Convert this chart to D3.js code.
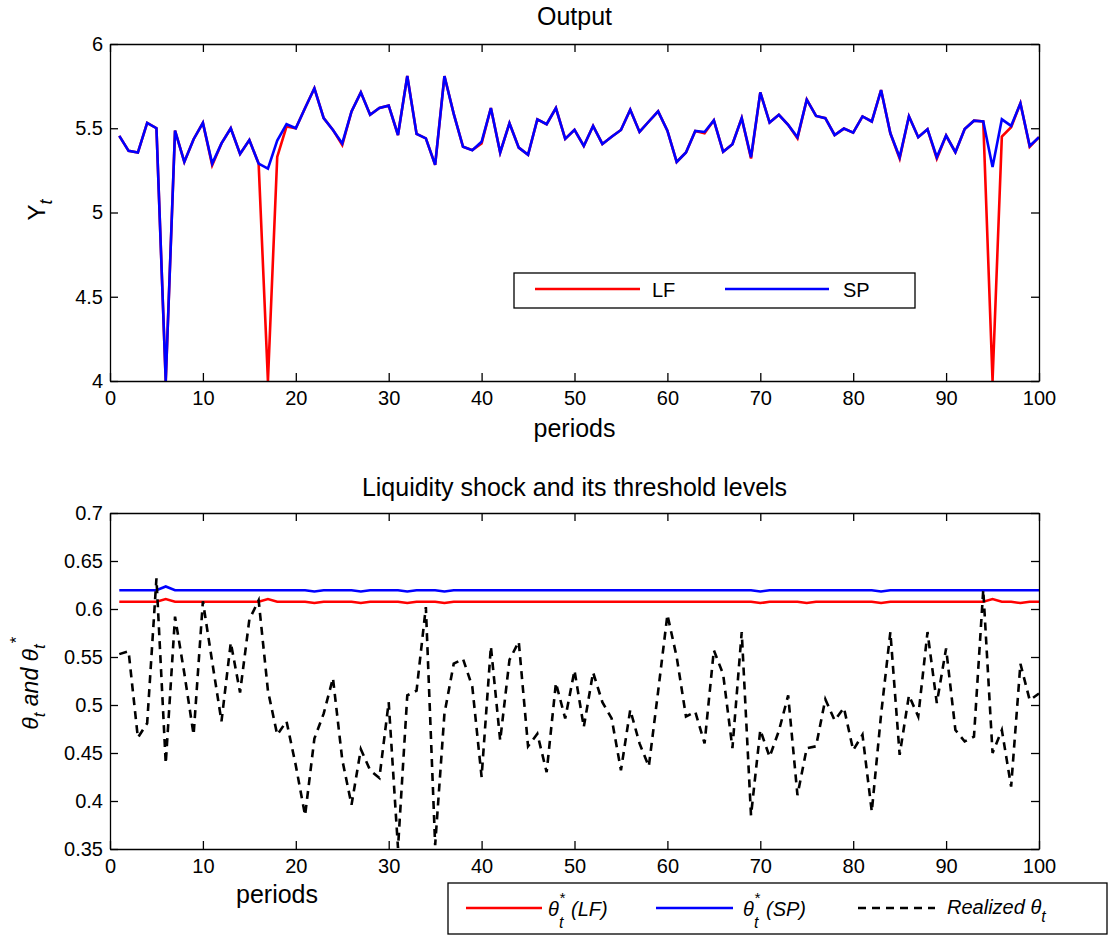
<!DOCTYPE html>
<html>
<head>
<meta charset="utf-8">
<script src="https://cdn.jsdelivr.net/npm/d3@7"></script>
<style>
	body { margin: 0; background: #fff; }
	svg { font-family: "Liberation Sans", Arial, sans-serif; }
	.axis path, .axis line { stroke: #000; stroke-width: 1.3; }
	.axis text { font-size: 20px; fill: #000; }
</style>
</head>
<body>
<svg id="chart" width="1109" height="935" viewBox="0 0 1109 935"></svg>
<script>

// periods 1..100
const periods = d3.range(1, 101);

// Output Y_t, social planner
const outputSP = [
	5.455, 5.366, 5.356, 5.532, 5.50, 4.0, 5.486, 5.30, 5.435, 5.532,
	5.29, 5.41, 5.50, 5.348, 5.43, 5.29, 5.26, 5.427, 5.524, 5.50,
	5.62, 5.737, 5.56, 5.49, 5.41, 5.60, 5.713, 5.58, 5.62, 5.634,
	5.46, 5.81, 5.466, 5.44, 5.283, 5.81, 5.585, 5.39, 5.37, 5.42,
	5.62, 5.356, 5.53, 5.385, 5.342, 5.553, 5.524, 5.62, 5.437, 5.49,
	5.395, 5.514, 5.407, 5.45, 5.49, 5.61, 5.478, 5.54, 5.60, 5.486,
	5.30, 5.356, 5.484, 5.478, 5.547, 5.36, 5.405, 5.56, 5.328, 5.713,
	5.534, 5.58, 5.52, 5.447, 5.67, 5.573, 5.56, 5.46, 5.498, 5.474,
	5.57, 5.54, 5.727, 5.47, 5.328, 5.571, 5.447, 5.494, 5.328, 5.457,
	5.358, 5.496, 5.545, 5.54, 5.27, 5.553, 5.514, 5.648, 5.395, 5.447
];

// Output Y_t, laissez-faire
const outputLF = [
	5.455, 5.366, 5.356, 5.532, 5.50, 4.0, 5.486, 5.30, 5.435, 5.532,
	5.28, 5.41, 5.50, 5.348, 5.43, 5.29, 4.0, 5.33, 5.51, 5.50,
	5.62, 5.737, 5.56, 5.49, 5.40, 5.60, 5.713, 5.58, 5.62, 5.634,
	5.46, 5.81, 5.466, 5.44, 5.283, 5.81, 5.585, 5.39, 5.37, 5.41,
	5.62, 5.356, 5.53, 5.385, 5.342, 5.553, 5.524, 5.62, 5.437, 5.49,
	5.395, 5.514, 5.407, 5.45, 5.49, 5.61, 5.478, 5.54, 5.60, 5.486,
	5.30, 5.356, 5.484, 5.47, 5.547, 5.36, 5.405, 5.56, 5.32, 5.713,
	5.534, 5.58, 5.52, 5.44, 5.67, 5.573, 5.56, 5.46, 5.498, 5.474,
	5.57, 5.54, 5.727, 5.47, 5.32, 5.571, 5.447, 5.494, 5.32, 5.457,
	5.358, 5.496, 5.545, 5.54, 4.0, 5.45, 5.506, 5.648, 5.39, 5.447
];

// threshold theta* (SP)
const thresholdSP = [
	0.6195, 0.6195, 0.6195, 0.6195, 0.6195, 0.6235, 0.6195, 0.6195, 0.6195, 0.6195,
	0.6195, 0.6195, 0.6195, 0.6195, 0.6195, 0.6195, 0.6195, 0.6195, 0.6195, 0.6195,
	0.6195, 0.6183, 0.6195, 0.6195, 0.6195, 0.6195, 0.6183, 0.6195, 0.6195, 0.6195,
	0.6195, 0.6183, 0.6195, 0.6195, 0.6195, 0.6183, 0.6195, 0.6195, 0.6195, 0.6195,
	0.6195, 0.6195, 0.6195, 0.6195, 0.6195, 0.6195, 0.6195, 0.6195, 0.6195, 0.6195,
	0.6195, 0.6195, 0.6195, 0.6195, 0.6195, 0.6195, 0.6195, 0.6195, 0.6195, 0.6195,
	0.6195, 0.6195, 0.6195, 0.6195, 0.6195, 0.6195, 0.6195, 0.6195, 0.6195, 0.6183,
	0.6195, 0.6195, 0.6195, 0.6195, 0.6195, 0.6195, 0.6195, 0.6195, 0.6195, 0.6195,
	0.6195, 0.6195, 0.6183, 0.6195, 0.6195, 0.6195, 0.6195, 0.6195, 0.6195, 0.6195,
	0.6195, 0.6195, 0.6195, 0.6195, 0.6195, 0.6195, 0.6195, 0.6195, 0.6195, 0.6195
];

// threshold theta* (LF)
const thresholdLF = [
	0.6075, 0.6075, 0.6075, 0.6075, 0.6075, 0.6103, 0.6075, 0.6075, 0.6075, 0.6075,
	0.6075, 0.6075, 0.6075, 0.6075, 0.6075, 0.6075, 0.6103, 0.6075, 0.6075, 0.6075,
	0.6075, 0.6062, 0.6075, 0.6075, 0.6075, 0.6075, 0.6062, 0.6075, 0.6075, 0.6075,
	0.6075, 0.6062, 0.6075, 0.6075, 0.6075, 0.6062, 0.6075, 0.6075, 0.6075, 0.6075,
	0.6075, 0.6075, 0.6075, 0.6075, 0.6075, 0.6075, 0.6075, 0.6075, 0.6075, 0.6075,
	0.6075, 0.6075, 0.6075, 0.6075, 0.6075, 0.6075, 0.6075, 0.6075, 0.6075, 0.6075,
	0.6075, 0.6075, 0.6075, 0.6075, 0.6075, 0.6075, 0.6075, 0.6075, 0.6075, 0.6062,
	0.6075, 0.6075, 0.6075, 0.6075, 0.6062, 0.6075, 0.6075, 0.6075, 0.6075, 0.6075,
	0.6075, 0.6075, 0.6062, 0.6075, 0.6075, 0.6075, 0.6075, 0.6075, 0.6075, 0.6075,
	0.6075, 0.6075, 0.6075, 0.6075, 0.6103, 0.6075, 0.6075, 0.6062, 0.6075, 0.6075
];

// realized liquidity shock theta_t
const realized = [
	0.553, 0.556, 0.466, 0.481, 0.632, 0.439, 0.592, 0.533, 0.469, 0.608,
	0.545, 0.483, 0.565, 0.513, 0.589, 0.609, 0.515, 0.469, 0.483, 0.437,
	0.385, 0.465, 0.491, 0.528, 0.443, 0.396, 0.454, 0.432, 0.424, 0.503,
	0.351, 0.510, 0.515, 0.602, 0.354, 0.491, 0.543, 0.548, 0.519, 0.425,
	0.561, 0.463, 0.547, 0.566, 0.457, 0.470, 0.430, 0.523, 0.486, 0.536,
	0.477, 0.534, 0.503, 0.486, 0.432, 0.495, 0.460, 0.436, 0.514, 0.594,
	0.550, 0.488, 0.493, 0.460, 0.557, 0.532, 0.455, 0.576, 0.385, 0.474,
	0.446, 0.473, 0.510, 0.406, 0.455, 0.457, 0.506, 0.484, 0.497, 0.453,
	0.469, 0.389, 0.490, 0.576, 0.448, 0.510, 0.488, 0.576, 0.502, 0.559,
	0.474, 0.462, 0.467, 0.620, 0.450, 0.474, 0.415, 0.543, 0.505, 0.512
];

const xTicks = [0, 10, 20, 30, 40, 50, 60, 70, 80, 90, 100];
const yTicksTop = [4, 4.5, 5, 5.5, 6];
const yTicksBottom = [0.35, 0.4, 0.45, 0.5, 0.55, 0.6, 0.65, 0.7];

const svg = d3.select('#chart');
const left = 110, right = 1039;

// box axes with inward ticks on all four sides
function drawAxes(g, x, y, yTicks) {
	const [y0, y1] = y.range();
	g.append('g').attr('class', 'axis')
		.attr('transform', `translate(0,${y0})`)
		.call(d3.axisBottom(x).tickValues(xTicks).tickSizeInner(-8).tickSizeOuter(0).tickPadding(10));
	g.append('g').attr('class', 'axis')
		.attr('transform', `translate(0,${y1})`)
		.call(d3.axisTop(x).tickValues(xTicks).tickSizeInner(-8).tickSizeOuter(0).tickFormat(''));
	g.append('g').attr('class', 'axis')
		.attr('transform', `translate(${left},0)`)
		.call(d3.axisLeft(y).tickValues(yTicks).tickSizeInner(-8).tickSizeOuter(0).tickPadding(7).tickFormat(d3.format('')));
	g.append('g').attr('class', 'axis')
		.attr('transform', `translate(${right},0)`)
		.call(d3.axisRight(y).tickValues(yTicks).tickSizeInner(-8).tickSizeOuter(0).tickFormat(''));
}

const x = d3.scaleLinear().domain([0, 100]).range([left, right]);

// ---------- top panel: output ----------
const yTop = d3.scaleLinear().domain([4, 6]).range([381, 44]);
const topPanel = svg.append('g');

topPanel.append('defs').append('clipPath').attr('id', 'clipTop')
	.append('rect').attr('x', left).attr('y', 44).attr('width', right - left).attr('height', 381 - 44);

const lineTop = (vals) => d3.line().x((d, i) => x(periods[i])).y(d => yTop(d))(vals);

topPanel.append('path').attr('d', lineTop(outputLF)).attr('fill', 'none')
	.attr('stroke', '#ff0000').attr('stroke-width', 2.6).attr('clip-path', 'url(#clipTop)');
topPanel.append('path').attr('d', lineTop(outputSP)).attr('fill', 'none')
	.attr('stroke', '#0000ff').attr('stroke-width', 2.6).attr('clip-path', 'url(#clipTop)');

drawAxes(topPanel, x, yTop, yTicksTop);

topPanel.append('text').attr('x', (left + right) / 2).attr('y', 25)
	.attr('text-anchor', 'middle').attr('font-size', 25).text('Output');
topPanel.append('text').attr('x', (left + right) / 2).attr('y', 437)
	.attr('text-anchor', 'middle').attr('font-size', 25).text('periods');

const ylab = topPanel.append('text').attr('transform', 'translate(45,210) rotate(-90)')
	.attr('text-anchor', 'middle').attr('font-size', 24);
ylab.append('tspan').text('Y');
ylab.append('tspan').attr('font-style', 'italic').attr('font-size', 18).attr('dy', 7).text('t');

// top legend
const legTop = topPanel.append('g');
legTop.append('rect').attr('x', 514).attr('y', 273).attr('width', 401).attr('height', 35)
	.attr('fill', '#fff').attr('stroke', '#000').attr('stroke-width', 1.3);
legTop.append('line').attr('x1', 535).attr('x2', 640).attr('y1', 289).attr('y2', 289)
	.attr('stroke', '#ff0000').attr('stroke-width', 2.6);
legTop.append('text').attr('x', 652).attr('y', 297).attr('font-size', 20).text('LF');
legTop.append('line').attr('x1', 725).attr('x2', 829).attr('y1', 289).attr('y2', 289)
	.attr('stroke', '#0000ff').attr('stroke-width', 2.6);
legTop.append('text').attr('x', 843).attr('y', 297).attr('font-size', 20).text('SP');

// ---------- bottom panel: liquidity shock ----------
const yBot = d3.scaleLinear().domain([0.35, 0.7]).range([849, 513]);
const botPanel = svg.append('g');

botPanel.append('defs').append('clipPath').attr('id', 'clipBot')
	.append('rect').attr('x', left).attr('y', 513).attr('width', right - left).attr('height', 849 - 513);

const lineBot = (vals) => d3.line().x((d, i) => x(periods[i])).y(d => yBot(d))(vals);

botPanel.append('path').attr('d', lineBot(thresholdLF)).attr('fill', 'none')
	.attr('stroke', '#ff0000').attr('stroke-width', 2.6).attr('clip-path', 'url(#clipBot)');
botPanel.append('path').attr('d', lineBot(thresholdSP)).attr('fill', 'none')
	.attr('stroke', '#0000ff').attr('stroke-width', 2.6).attr('clip-path', 'url(#clipBot)');
botPanel.append('path').attr('d', lineBot(realized)).attr('fill', 'none')
	.attr('stroke', '#000').attr('stroke-width', 2.6).attr('stroke-dasharray', '8,6')
	.attr('clip-path', 'url(#clipBot)');

drawAxes(botPanel, x, yBot, yTicksBottom);

botPanel.append('text').attr('x', (left + right) / 2).attr('y', 496)
	.attr('text-anchor', 'middle').attr('font-size', 25).text('Liquidity shock and its threshold levels');
botPanel.append('text').attr('x', 277).attr('y', 903)
	.attr('text-anchor', 'middle').attr('font-size', 25).text('periods');

// rotated y label: θ_t and θ*_t
const yl2 = botPanel.append('g').attr('transform', 'translate(38,687) rotate(-90)');
const yl2t = yl2.append('text').attr('text-anchor', 'middle').attr('font-size', 23).attr('font-style', 'italic');
yl2t.append('tspan').text('θ');
yl2t.append('tspan').attr('font-size', 17).attr('dy', 7).text('t');
yl2t.append('tspan').attr('dy', -7).text(' and θ');
yl2t.append('tspan').attr('font-size', 17).attr('dy', 7).text('t');
yl2.append('text').attr('x', 43).attr('y', -16).attr('font-size', 17).attr('font-style', 'italic').text('*');

// bottom legend
const legBot = botPanel.append('g');
legBot.append('rect').attr('x', 448).attr('y', 883).attr('width', 659).attr('height', 51)
	.attr('fill', '#fff').attr('stroke', '#000').attr('stroke-width', 1.3);

function thetaStar(g, x0, label) {
	g.append('text').attr('x', x0).attr('y', 916).attr('font-size', 20).attr('font-style', 'italic').text('θ');
	g.append('text').attr('x', x0 + 11).attr('y', 903).attr('font-size', 15).attr('font-style', 'italic').text('*');
	g.append('text').attr('x', x0 + 11).attr('y', 928).attr('font-size', 16).attr('font-style', 'italic').text('t');
	g.append('text').attr('x', x0 + 23).attr('y', 916).attr('font-size', 20).attr('font-style', 'italic').text(label);
}

legBot.append('line').attr('x1', 466).attr('x2', 542).attr('y1', 908).attr('y2', 908)
	.attr('stroke', '#ff0000').attr('stroke-width', 2.6);
thetaStar(legBot, 548, '(LF)');
legBot.append('line').attr('x1', 656).attr('x2', 733).attr('y1', 908).attr('y2', 908)
	.attr('stroke', '#0000ff').attr('stroke-width', 2.6);
thetaStar(legBot, 743, '(SP)');
legBot.append('line').attr('x1', 858).attr('x2', 935).attr('y1', 908).attr('y2', 908)
	.attr('stroke', '#000').attr('stroke-width', 2.6).attr('stroke-dasharray', '8,6');
const rl = legBot.append('text').attr('x', 947).attr('y', 914).attr('font-size', 20).attr('font-style', 'italic');
rl.append('tspan').text('Realized θ');
rl.append('tspan').attr('font-size', 16).attr('dy', 8).text('t');

</script>
</body>
</html>
